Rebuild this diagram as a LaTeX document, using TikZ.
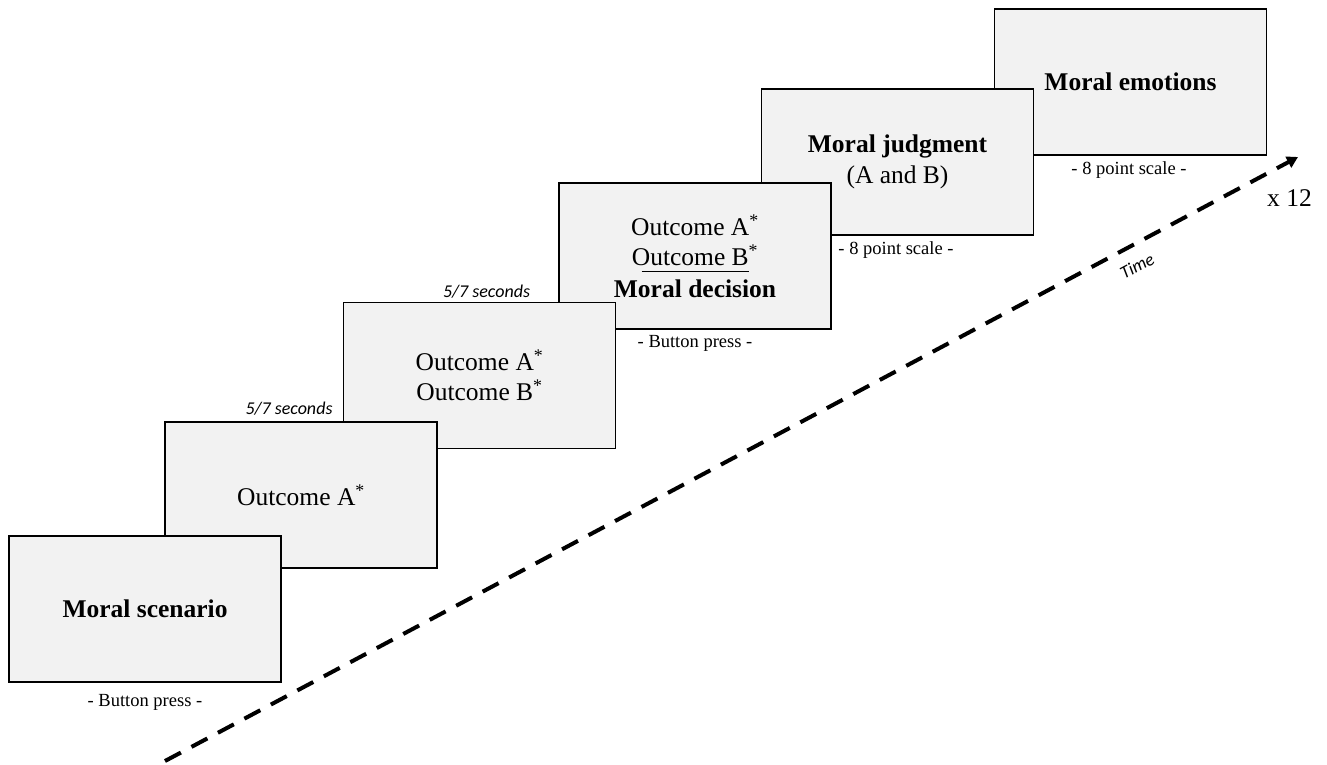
\documentclass[tikz,border=0pt]{standalone}
\usepackage{fontspec}
\setmainfont{Liberation Serif}
\newfontfamily\labelfont{Carlito}
\usetikzlibrary{arrows.meta,calc}
\begin{document}
\begin{tikzpicture}[x=1pt,y=-1pt,
  screen/.style={draw=black,line width=1.6pt,fill=black!5,minimum width=272pt,minimum height=146pt,inner sep=0pt,align=center,font=\fontsize{25.5}{30.5}\selectfont},
  small/.style={font=\fontsize{18.5}{22}\selectfont,anchor=base,inner sep=0pt},
  timing/.style={font=\labelfont\itshape\fontsize{18}{22}\selectfont,anchor=base,inner sep=0pt},
  timeline/.style={line width=4pt,dash pattern=on 18pt off 12pt,-{Triangle[length=11pt,width=12pt]}}
]
\useasboundingbox (0,0) rectangle (1327,764);
\node[screen] (b6) at (1130.5,82) {\textbf{Moral emotions}};
\node[screen] (b5) at (897.5,162) {\textbf{Moral judgment}\\(A and B)};
\node[screen] (b4) at (695,256) {Outcome A\textsuperscript{*}\\Outcome B\textsuperscript{*}\\[1pt]\textbf{Moral decision}};
\node[screen] (b3) at (479.5,375.5) {Outcome A\textsuperscript{*}\\Outcome B\textsuperscript{*}};
\node[screen] (b2) at (301,495) {Outcome A\textsuperscript{*}};
\node[screen] (b1) at (145,609) {\textbf{Moral scenario}};
\draw[line width=0.9pt] ($(b4.center)+(-53.5,15.5)$) -- ++(107,0);
\node[small] (l1) at (145,706) {- Button press -};
\node[small] (l4) at (695,347) {- Button press -};
\node[small] (l5) at (896,254) {- 8 point scale -};
\node[small] (l6) at (1129,174) {- 8 point scale -};
\node[timing] (t1) at (289,414) {5/7 seconds};
\node[timing] (t2) at (486.5,297) {5/7 seconds};
\node[font=\fontsize{25.5}{30}\selectfont,anchor=base,inner sep=0pt] (rep) at (1289.5,206) {x 12};
\coordinate (ts) at (165,761);
\coordinate (te) at (1298,157);
\draw[timeline] (ts) -- (te);
\node[font=\labelfont\itshape\fontsize{18}{22}\selectfont,rotate=28,inner sep=0pt] (time) at (1137,266) {Time};
\end{tikzpicture}
\end{document}
